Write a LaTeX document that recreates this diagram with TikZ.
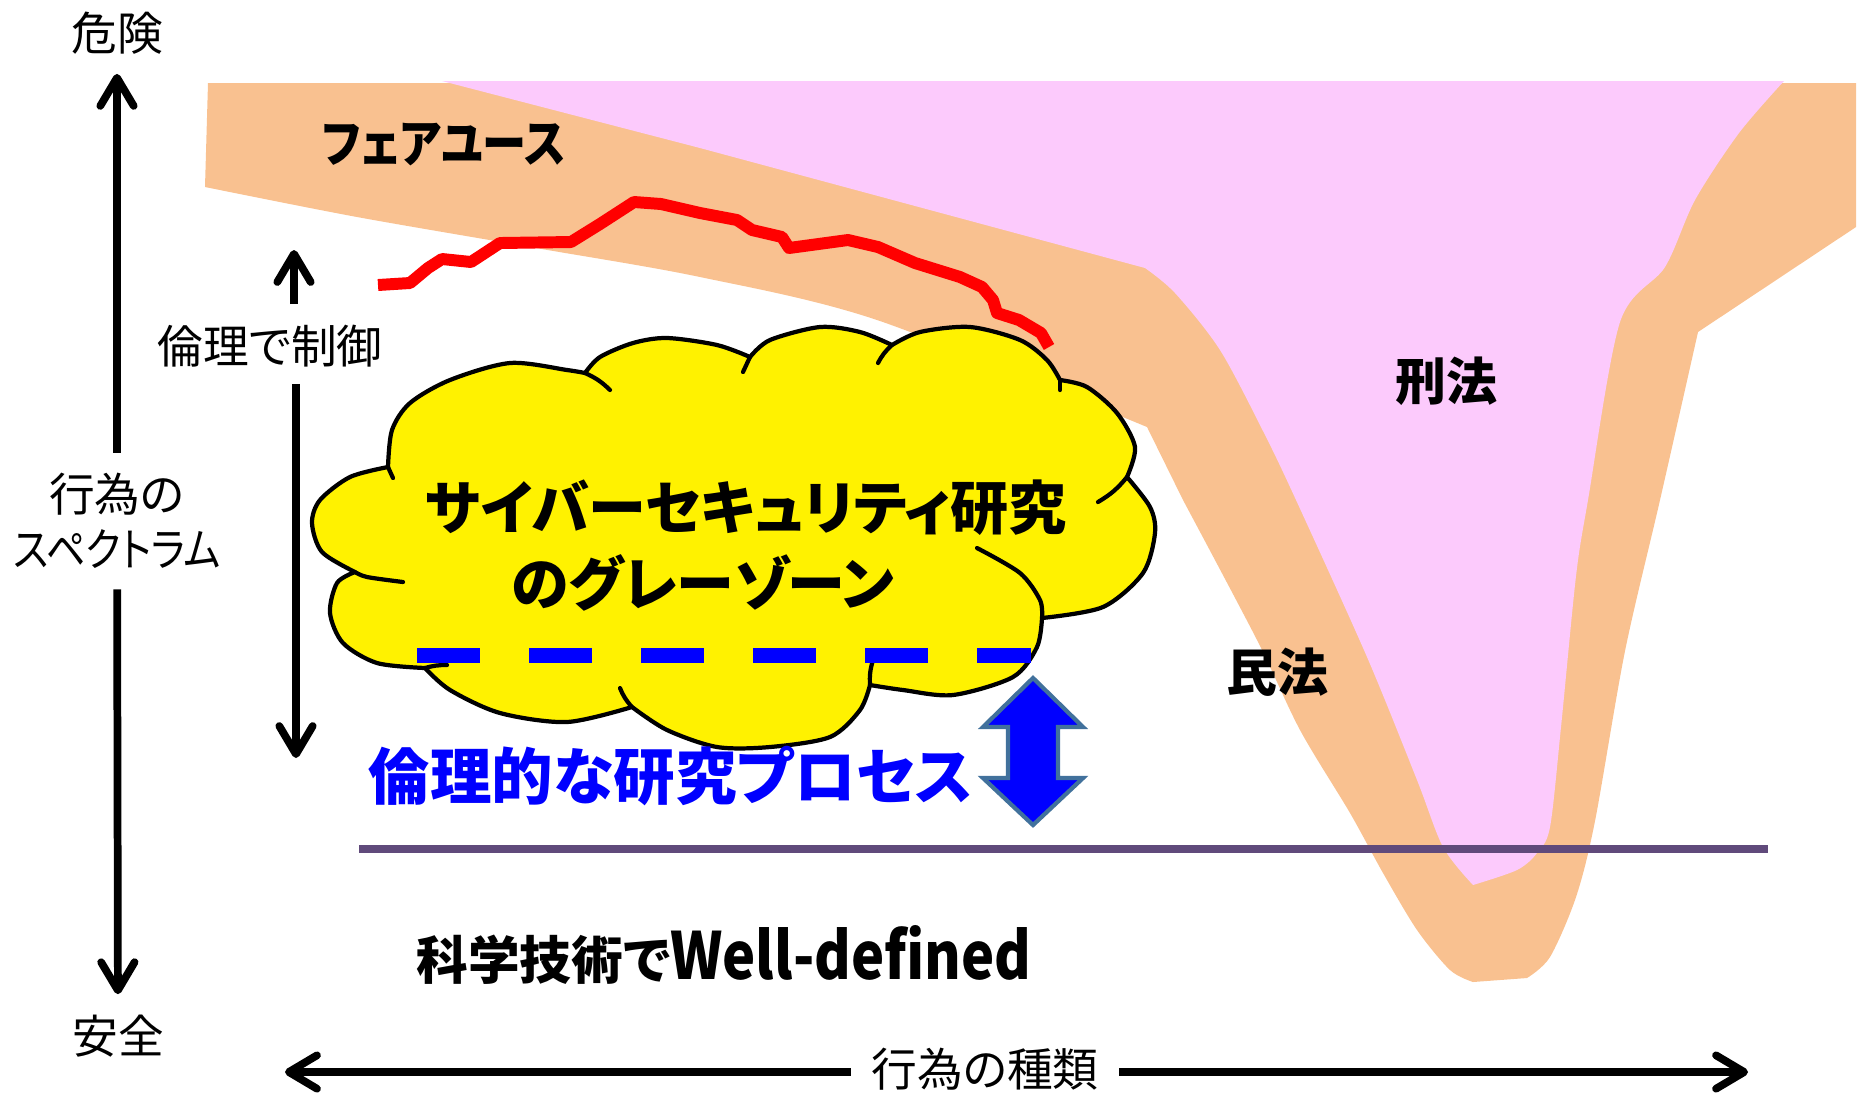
\documentclass[tikz,border=0pt]{standalone}
\usepackage{fontspec}
\setmainfont{Noto Sans CJK JP}[RawFeature=+palt]
\newfontfamily\narrowjp{Noto Sans CJK JP}[RawFeature=+palt,FakeStretch=0.86]
\usepackage{tikz}
\usetikzlibrary{positioning,arrows.meta}

\definecolor{fairorange}{RGB}{249,193,144}
\definecolor{lawpink}{RGB}{252,202,252}
\definecolor{linepurple}{RGB}{96,74,123}
\definecolor{arrowedge}{RGB}{65,113,156}

\begin{document}
\begin{tikzpicture}[x=0.01cm,y=-0.01cm,on grid,
    txt/.style={inner sep=0pt,font=\fontsize{13pt}{15.6pt}\selectfont},
    law/.style={inner sep=0pt,font=\fontsize{14.5pt}{17pt}\selectfont\bfseries},
    grey/.style={inner sep=0pt,font=\fontsize{16.5pt}{20pt}\selectfont\bfseries},
    axis/.style={line width=2.2pt,-{Straight Barb[length=8pt,width=9.5pt,round]}},
    puff/.style={line width=1.2pt,line cap=round,line join=round}]
\useasboundingbox (0,0) rectangle (1864,1093);

% fair use band and the civil law valley
\fill[fairorange] (208,83) -- (1856,83) -- (1856,227) -- (1698,332)
  -- plot[smooth] coordinates {(1698,332) (1660,500) (1625,651) (1595,821) (1576,897) (1550,957) (1527,978)}
  -- (1500,980)
  -- plot[smooth] coordinates {(1473,982) (1450,970) (1417,930) (1383,873) (1350,813) (1300,730) (1257,640) (1183,500)}
  -- (1147,427)
  -- plot[smooth] coordinates {(1147,427) (877,320) (700,277) (536,248) (357,217) (205,187)}
  -- cycle;

% criminal law
\fill[lawpink] (442,81) -- (1784,81)
  -- plot[smooth] coordinates {(1784,81) (1739,133) (1695,200) (1665,267) (1620,322) (1588,500) (1576,576) (1561,727) (1550,827) (1537,853) (1517,870) (1473,885)}
  -- plot[smooth] coordinates {(1473,885) (1443,847) (1417,780) (1367,657) (1296,500) (1264,433) (1220,350) (1175,293) (1145,268)}
  -- (700,148) -- cycle;

\draw[linepurple,line width=2.3pt] (359,849) -- (1768,849);

% boundary of what ethics allows
\draw[red,line width=3.4pt,line join=round] plot coordinates {(378,285) (410,283) (428,268) (442,259) (471,262) (500,243) (571,242) (600,224) (634,202) (661,204) (700,213) (737,220) (752,230) (782,237) (789,248) (848,240) (878,247) (915,263) (960,277) (982,287) (993,300) (997,313) (1019,320) (1041,333) (1049,347)};

% grey zone cloud
\filldraw[fill=yellow,puff] (388,467)
  -- plot[smooth] coordinates {(388,467) (392,430) (410,403) (450,380) (510,363) (567,370) (585,373)}
  -- plot[smooth] coordinates {(585,373) (600,357) (633,343) (667,338) (717,345) (750,357)}
  -- plot[smooth] coordinates {(750,357) (770,340) (820,327) (860,332) (892,345)}
  -- plot[smooth] coordinates {(892,345) (920,332) (970,327) (1020,340) (1047,360) (1060,380)}
  -- plot[smooth] coordinates {(1060,380) (1087,387) (1117,413) (1135,447) (1127,477)}
  -- plot[smooth] coordinates {(1127,477) (1150,507) (1155,533) (1143,573) (1103,607) (1042,618)}
  -- plot[smooth] coordinates {(1042,618) (1037,647) (1013,677) (953,695) (903,690) (870,685)}
  -- plot[smooth] coordinates {(870,685) (860,710) (830,737) (770,747) (717,747) (667,730) (632,707)}
  -- plot[smooth] coordinates {(632,707) (567,722) (500,713) (450,690) (425,668)}
  -- plot[smooth] coordinates {(425,668) (377,663) (343,643) (330,613) (337,583) (355,572)}
  -- plot[smooth] coordinates {(355,572) (322,552) (312,523) (320,500) (350,477) (388,467)}
  -- cycle;
\draw[puff] (388,467) -- (393,478);
\draw[puff] (585,373) to[bend left=10] (610,390);
\draw[puff] (750,357) -- (743,372);
\draw[puff] (892,345) to[bend right=10] (878,363);
\draw[puff] (1060,380) -- (1060,390);
\draw[puff] (1127,477) to[bend left=10] (1098,502);
\draw[puff] plot[smooth] coordinates {(1042,618) (1040,600) (1020,573) (977,548)};
\draw[puff] (870,685) to[bend left=10] (873,660);
\draw[puff] (632,707) to[bend left=10] (620,688);
\draw[puff] (425,668) to[bend left=8] (447,665);
\draw[puff] plot[smooth] coordinates {(355,572) (367,577) (403,582)};

\draw[blue,line width=0.15cm,dash pattern=on 0.63cm off 0.49cm] (417,655) -- (1031,655);

% research process arrow
\filldraw[fill=blue,draw=arrowedge,line width=1.2pt] (1033,678) -- (1083,727) -- (1058,727) -- (1058,778)
  -- (1083,778) -- (1033,825) -- (983,778) -- (1008,778) -- (1008,727) -- (983,727) -- cycle;

% labels
\node[law,font=\fontsize{14.6pt}{17pt}\narrowjp\bfseries] (fairuse) at (444,145) {フェアユース};
\node[law] (criminal) at (1446,381) {刑法};
\node[law] (civil) at (1277,672) {民法};
\node[grey] (grey1) at (746,508) {サイバーセキュリティ研究};
\node[grey,below left=0.75cm and 0.43cm of grey1] (grey2) {のグレーゾーン};
\node[inner sep=0pt,text=blue,font=\fontsize{17.5pt}{21pt}\selectfont\bfseries] (process) at (671,776) {倫理的な研究プロセス};
\node[inner sep=0pt,font=\bfseries] (science) at (724,955)
  {{\fontsize{14.7pt}{17pt}\selectfont 科学技術で}{\fontsize{18.5pt}{22pt}\narrowjp\bfseries Well-defined}};

% spectrum axis
\node[txt] (danger) at (117,33) {危険};
\node[txt,align=center] (spectrum) at (117,521) {行為の\\{\narrowjp スペクトラム}};
\node[txt] (safe) at (118,1036) {安全};
\draw[axis,shorten <=0.2cm,shorten >=0.19cm] (spectrum) -- (danger);
\draw[axis,shorten <=0.2cm,shorten >=0.2cm] (spectrum) -- (safe);

% ethics control
\node[txt] (ethics) at (270,346) {倫理で制御};
\coordinate (ethicsUp) at (294,250);
\coordinate (ethicsDown) at (296,758);
\draw[axis,shorten <=0.2cm] (ethics.north -| ethicsUp) -- (ethicsUp);
\draw[axis,shorten <=0.16cm] (ethics.south -| ethicsDown) -- (ethicsDown);

% kinds of acts
\node[txt] (kind) at (985,1069) {行為の種類};
\coordinate (kindLeft) at (285,1072);
\coordinate (kindRight) at (1748,1072);
\draw[axis,shorten <=0.2cm] (kind.west |- kindLeft) -- (kindLeft);
\draw[axis,shorten <=0.2cm] (kind.east |- kindRight) -- (kindRight);
\end{tikzpicture}
\end{document}
